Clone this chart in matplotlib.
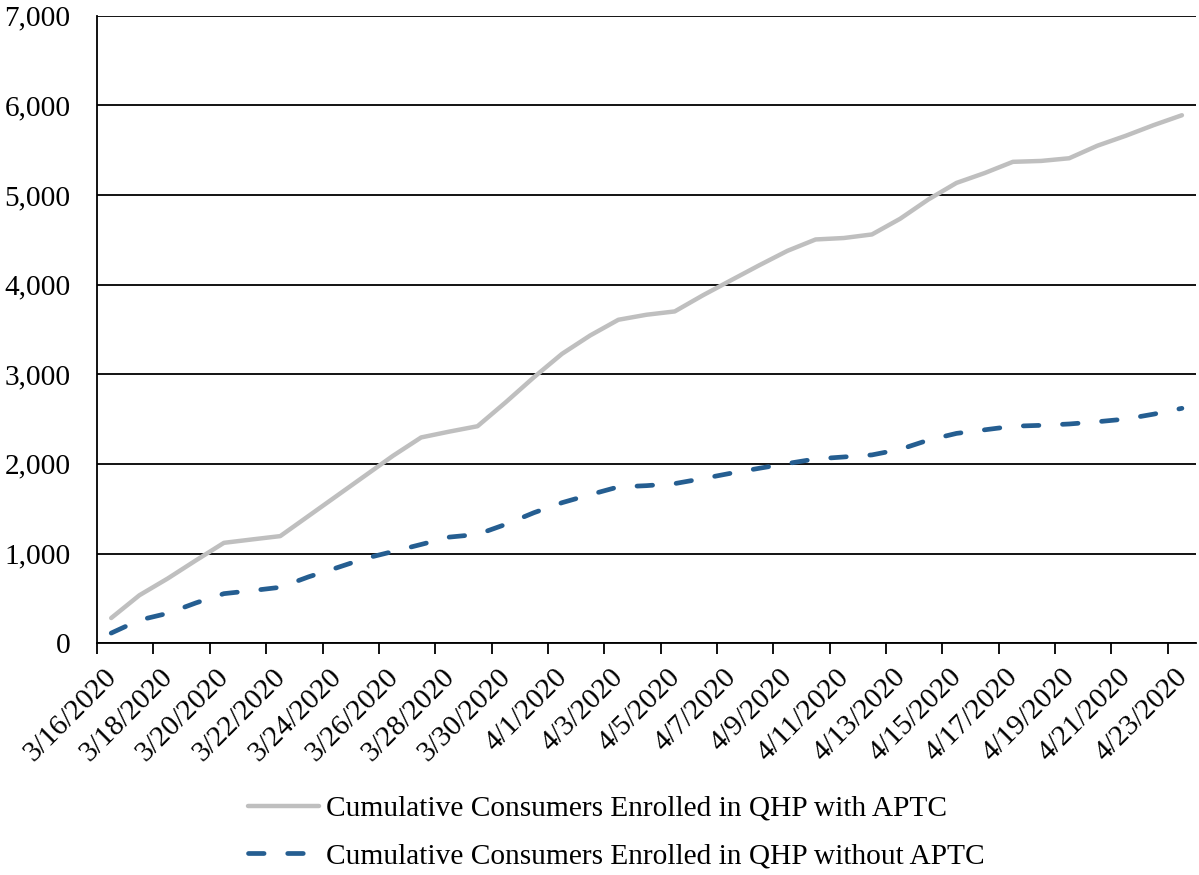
import pandas as pd
import matplotlib.pyplot as plt
from matplotlib.ticker import FuncFormatter

# daily dates 3/16/2020 - 4/23/2020
dates = pd.date_range("2020-03-16", "2020-04-23", freq="D")
date_labels = [f"{d.month}/{d.day}/{d.year}" for d in dates]

with_aptc = [280, 534, 720, 922, 1119, 1157, 1194, 1418, 1642, 1866, 2090, 2295, 2360,
             2420, 2687, 2966, 3228, 3433, 3608, 3664, 3701, 3881, 4049, 4216, 4377, 4504,
             4520, 4560, 4735, 4950, 5135, 5245, 5370, 5380, 5410, 5550, 5660, 5780, 5890]
without_aptc = [112, 257, 332, 448, 552, 586, 623, 739, 840, 944, 1022, 1101, 1183,
                1213, 1325, 1455, 1567, 1657, 1743, 1757, 1780, 1836, 1896, 1951, 2004, 2055,
                2077, 2100, 2162, 2265, 2340, 2380, 2420, 2430, 2445, 2470, 2500, 2555, 2620]

plt.rcParams["font.family"] = ["Liberation Serif", "DejaVu Serif"]
FS = 21.2

fig = plt.figure(figsize=(11.99, 8.75), dpi=100)
ax = fig.add_axes([0.081, 0.265, 0.9165, 0.717])

x = list(range(len(dates)))
ax.plot(x, with_aptc, color="#BFBFBF", lw=3.2, solid_capstyle="round",
        label="Cumulative Consumers Enrolled in QHP with APTC")
ax.plot(x, without_aptc, color="#255E91", lw=3.4, dashes=(3.3, 5.0), dash_capstyle="round",
        label="Cumulative Consumers Enrolled in QHP without APTC")

ax.set_xlim(-0.5, len(dates) - 0.5)
ax.set_ylim(0, 7000)
ax.set_yticks(range(0, 7001, 1000))
ax.yaxis.set_major_formatter(FuncFormatter(lambda v, p: f"{int(v):,}"))
ax.grid(axis="y", color="black", lw=1.3)
ax.set_axisbelow(True)

# tick marks at category boundaries, labels near category centres
ax.set_xticks([i - 0.5 for i in range(0, len(dates), 2)])
ax.set_xticklabels([])
ax.set_xticks([i - 0.28 for i in x[::2]], minor=True)
ax.set_xticklabels(date_labels[::2], minor=True, rotation=45, ha="right", va="top",
                   rotation_mode="anchor", fontsize=FS)
ax.tick_params(axis="x", which="major", length=8, width=1.3, direction="out")
ax.tick_params(axis="x", which="minor", length=0, pad=15)
ax.tick_params(axis="y", length=0, pad=19, labelsize=FS)

for s in ["top", "right"]:
    ax.spines[s].set_visible(False)
for s in ["left", "bottom"]:
    ax.spines[s].set_color("black")
    ax.spines[s].set_linewidth(1.3)

fig.legend(loc="center", bbox_to_anchor=(0.514, 0.0486), frameon=False, fontsize=FS,
           handlelength=2.4, handletextpad=0.25, labelspacing=0.72, borderpad=0)

fig.savefig("out.png", dpi=100)
